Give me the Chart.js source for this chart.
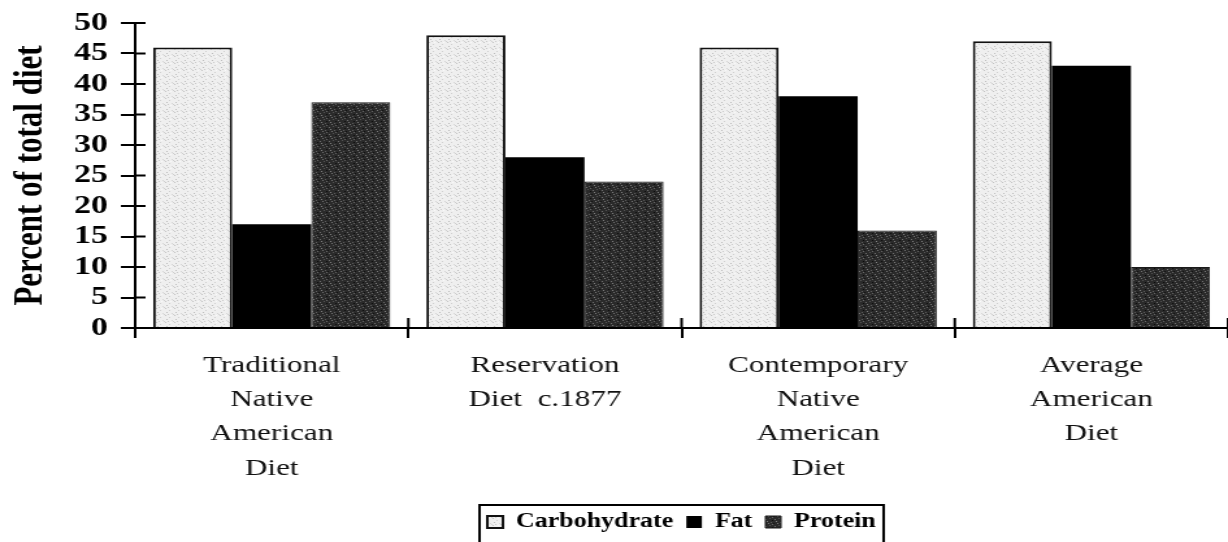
<!DOCTYPE html>
<html>
<head>
<meta charset="utf-8">
<script src="https://cdn.jsdelivr.net/npm/chart.js@4/dist/chart.umd.min.js"></script>
<style>
  html, body { margin: 0; padding: 0; background: #fff; overflow: hidden; }
  #wrap { width: 945px; height: 542px; position: relative; transform: scaleX(1.29947); transform-origin: 0 0; }
</style>
</head>
<body>
<div id="wrap"><canvas id="c"></canvas></div>
<script>
const categories = [
  ['Traditional', 'Native', 'American', 'Diet'],
  ['Reservation', 'Diet  c.1877'],
  ['Contemporary', 'Native', 'American', 'Diet'],
  ['Average', 'American', 'Diet']
];
const seriesNames = ['Carbohydrate', 'Fat', 'Protein'];
const carbohydrate = [46, 48, 46, 47];
const fat = [17, 28, 38, 43];
const protein = [37, 24, 16, 10];
const yTitle = 'Percent of total diet';

const SERIF = "'Liberation Serif', 'Times New Roman', serif";
const canvas = document.getElementById('c');
const baseCtx = canvas.getContext('2d');

function stipple(base, dots) {
  const t = document.createElement('canvas');
  t.width = 7; t.height = 7;
  const g = t.getContext('2d');
  g.fillStyle = base; g.fillRect(0, 0, 7, 7);
  dots.forEach(d => { g.fillStyle = d[2]; g.fillRect(d[0], d[1], 1, 1); });
  return baseCtx.createPattern(t, 'repeat');
}
const carbFill = stipple('#efefef', [[1,0,'#c4c4c4'],[4,2,'#d0d0d0'],[2,4,'#bdbdbd'],[6,5,'#d6d6d6'],[0,6,'#cfcfcf'],[5,0,'#fafafa'],[3,6,'#c9c9c9']]);
const protFill = stipple('#2a2a2a', [[1,1,'#6e6e6e'],[4,0,'#555'],[2,3,'#808080'],[5,4,'#5e5e5e'],[0,5,'#111'],[3,5,'#757575'],[6,2,'#0c0c0c'],[6,6,'#666']]);

const crossTicks = {
  id: 'crossTicks',
  afterLayout(chart) {
    const lg = chart.legend, ca = chart.chartArea;
    if (lg && ca) { lg.left = ca.left; lg.right = ca.right; lg.width = ca.right - ca.left; }
  },
  afterDraw(chart) {
    const { ctx, scales: { x, y } } = chart;
    ctx.save();
    ctx.strokeStyle = '#000';
    ctx.lineWidth = 2;
    y.ticks.forEach((t, i) => {
      const py = y.getPixelForTick(i);
      ctx.beginPath(); ctx.moveTo(y.right, py); ctx.lineTo(y.right + 8, py); ctx.stroke();
    });
    for (let i = 1; i <= x.ticks.length; i++) {
      const px = x.getPixelForValue(i - 0.5);
      ctx.beginPath(); ctx.moveTo(px, x.top); ctx.lineTo(px, x.top - 10); ctx.stroke();
    }
    const hb = chart.legend.legendHitBoxes;
    if (hb && hb.length) {
      const l = Math.min(...hb.map(h => h.left)) - 6;
      const r = Math.max(...hb.map(h => h.left + h.width)) + 6;
      const tp = Math.min(...hb.map(h => h.top)) - 7;
      ctx.lineWidth = 2;
      ctx.beginPath();
      ctx.moveTo(l, chart.height + 5); ctx.lineTo(l, tp); ctx.lineTo(r, tp); ctx.lineTo(r, chart.height + 5);
      ctx.stroke();
    }
    ctx.restore();
  }
};

new Chart(canvas, {
  type: 'bar',
  data: {
    labels: categories,
    datasets: [
      { label: seriesNames[0], data: carbohydrate, backgroundColor: carbFill, borderColor: '#111', borderWidth: 2 },
      { label: seriesNames[1], data: fat, backgroundColor: '#000', borderWidth: 0 },
      { label: seriesNames[2], data: protein, backgroundColor: protFill, borderColor: '#1a1a1a', borderWidth: 1 }
    ]
  },
  options: {
    responsive: true,
    maintainAspectRatio: false,
    animation: false,
    layout: { padding: { left: 5, right: 0, top: 7, bottom: 0 } },
    datasets: { bar: { categoryPercentage: 0.868, barPercentage: 1.0 } },
    plugins: {
      tooltip: { enabled: false },
      legend: {
        position: 'bottom',
        labels: {
          color: '#000',
          font: { family: SERIF, size: 20, weight: 'bold' },
          boxWidth: 12, boxHeight: 12, padding: 10
        }
      }
    },
    scales: {
      x: {
        grid: { drawOnChartArea: false, drawTicks: true, tickLength: 10, color: '#000', lineWidth: 2, offset: true },
        border: { color: '#000', width: 2 },
        ticks: {
          color: '#111', maxRotation: 0, autoSkip: false, padding: 11,
          font: { family: SERIF, size: 24, lineHeight: 1.42 }
        },
        afterFit(s) { s.height = 174; }
      },
      y: {
        min: 0, max: 50,
        grid: { drawOnChartArea: false, drawTicks: true, tickLength: 11, color: '#000', lineWidth: 2 },
        border: { color: '#000', width: 2 },
        ticks: {
          stepSize: 5, autoSkip: false, color: '#000', padding: 10,
          font: { family: SERIF, size: 26, weight: 'bold', lineHeight: 1 }
        },
        title: {
          display: true, text: yTitle, color: '#000',
          font: { family: SERIF, size: 31, weight: 'bold', lineHeight: 1.2 },
          padding: { top: 0, bottom: 0 }
        },
        afterFit(s) { s.width = 99; }
      }
    }
  },
  plugins: [crossTicks]
});
</script>
</body>
</html>
